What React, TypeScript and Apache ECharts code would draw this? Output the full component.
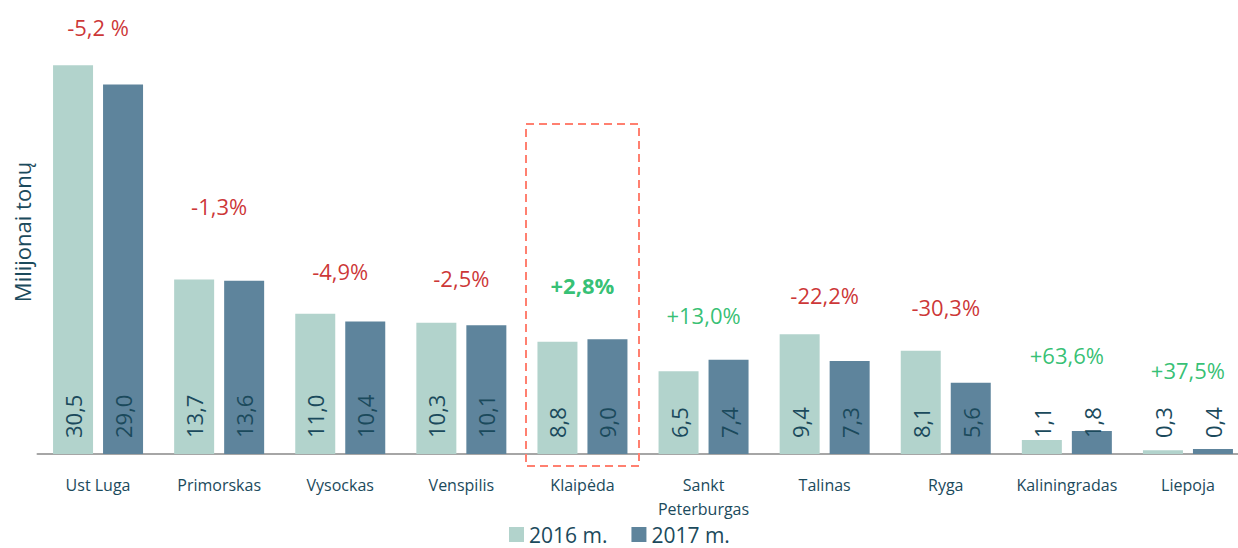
import React, { useEffect, useRef } from "react";
import * as echarts from "echarts";

const categories = ["Ust Luga", "Primorskas", "Vysockas", "Venspilis", "Klaipėda", "Sankt\nPeterburgas", "Talinas", "Ryga", "Kaliningradas", "Liepoja"];
const values2016 = [30.5, 13.7, 11.0, 10.3, 8.8, 6.5, 9.4, 8.1, 1.1, 0.3];
const values2017 = [29.0, 13.6, 10.4, 10.1, 9.0, 7.4, 7.3, 5.6, 1.8, 0.4];
const changeLabels = ["-5,2 %", "-1,3%", "-4,9%", "-2,5%", "+2,8%", "+13,0%", "-22,2%", "-30,3%", "+63,6%", "+37,5%"];
const changeLabelHeights = [33.5, 19.5, 14.4, 13.8, 13.3, 10.9, 12.5, 11.5, 7.8, 6.6];
const highlighted = "Klaipėda";

const TEXT = "#1b4a5c";
const LIGHT = "#b2d3cc";
const DARK = "#5e849c";
const RED = "#c00000";
const GREEN = "#00b050";
const FONT = "'Open Sans', 'Noto Sans', sans-serif";

const fmt = (v: number) => v.toFixed(1).replace(".", ",");

export default function App() {
  const ref = useRef<HTMLDivElement>(null);
  useEffect(() => {
    document.body.style.margin = "0";
    const chart = echarts.init(ref.current!, undefined, { renderer: "svg" });
    const valueLabel = {
      show: true,
      position: "insideBottom" as const,
      distance: 16,
      rotate: 90,
      align: "left" as const,
      verticalAlign: "middle" as const,
      fontSize: 22,
      fontFamily: FONT,
      color: TEXT,
      formatter: (p: any) => fmt(p.value),
    };
    chart.setOption({
      animation: false,
      textStyle: { fontFamily: FONT },
      grid: { left: 37.5, right: 1.5, top: 8, bottom: 94 },
      legend: {
        data: ["2016 m.", "2017 m."],
        left: 504,
        top: 519,
        itemWidth: 15,
        itemHeight: 15,
        itemGap: 24,
        icon: "rect",
        textStyle: { fontSize: 21, lineHeight: 21, color: TEXT, fontFamily: FONT },
      },
      xAxis: {
        type: "category",
        data: categories,
        axisLine: { lineStyle: { color: "#a6a6a6", width: 2 } },
        axisTick: { show: false },
        axisLabel: { fontSize: 16, color: TEXT, margin: 19, lineHeight: 24, fontFamily: FONT, interval: 0 },
      },
      yAxis: {
        type: "value",
        min: 0,
        max: 35,
        show: false,
        splitLine: { show: false },
      },
      graphic: [
        {
          type: "text",
          x: 22,
          y: 232,
          rotation: Math.PI / 2,
          style: {
            text: "Milijonai tonų",
            fontSize: 22,
            fontFamily: FONT,
            fill: TEXT,
            align: "center",
            verticalAlign: "middle",
          },
        },
        {
          type: "rect",
          shape: { x: 526, y: 124, width: 113, height: 342 },
          style: { fill: "none", stroke: "#ff8070", lineWidth: 2, lineDash: [8, 5] },
          z: 10,
        },
      ],
      series: [
        {
          name: "2016 m.",
          type: "bar",
          data: values2016,
          barWidth: 40,
          barGap: "25%",
          itemStyle: { color: LIGHT },
          label: valueLabel,
        },
        {
          name: "2017 m.",
          type: "bar",
          data: values2017,
          barWidth: 40,
          itemStyle: { color: DARK },
          label: valueLabel,
        },
        {
          name: "change",
          type: "scatter",
          symbolSize: 0,
          silent: true,
          data: categories.map((c, i) => ({
            value: [c, changeLabelHeights[i]],
            label: {
              show: true,
              position: "inside",
              formatter: changeLabels[i],
              fontSize: 22,
              fontFamily: FONT,
              fontWeight: c === highlighted ? "bold" : "normal",
              color: changeLabels[i].startsWith("+") ? GREEN : RED,
            },
          })),
        },
      ],
    });
    return () => chart.dispose();
  }, []);
  return (
    <div style={{ width: 1238, height: 548, overflow: "hidden" }}>
      <div ref={ref} style={{ width: 1250, height: 548 }} />
    </div>
  );
}
